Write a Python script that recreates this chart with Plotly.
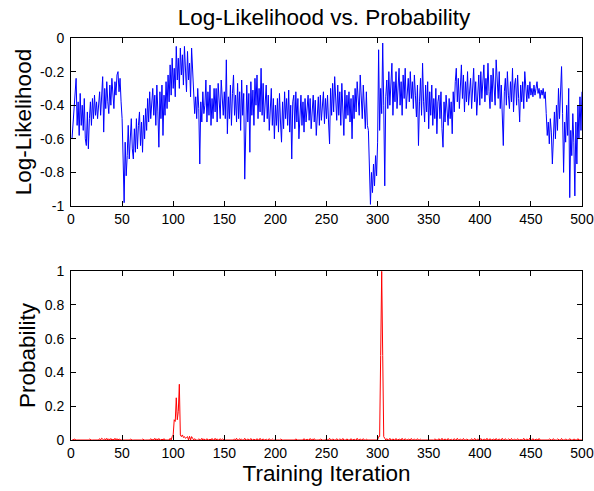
import plotly.graph_objects as go
from plotly.subplots import make_subplots

# ---------------- data ----------------
iterations = list(range(1, 501))

log_likelihood = [
    -0.60, -0.50, -0.42, -0.36, -0.24, -0.52, -0.38, -0.58, -0.33, -0.52,
    -0.40, -0.55, -0.36, -0.60, -0.64, -0.44, -0.66, -0.48, -0.38, -0.52,
    -0.36, -0.48, -0.34, -0.46, -0.38, -0.48, -0.36, -0.32, -0.46, -0.28,
    -0.23, -0.56, -0.30, -0.42, -0.26, -0.38, -0.45, -0.28, -0.40, -0.24,
    -0.36, -0.42, -0.26, -0.34, -0.22, -0.20, -0.32, -0.24, -0.38, -0.48,
    -0.72, -0.98, -0.62, -0.82, -0.70, -0.52, -0.72, -0.58, -0.48, -0.66,
    -0.72, -0.54, -0.68, -0.48, -0.66, -0.52, -0.44, -0.64, -0.50, -0.68,
    -0.46, -0.60, -0.42, -0.55, -0.36, -0.50, -0.32, -0.48, -0.38, -0.30,
    -0.46, -0.34, -0.52, -0.28, -0.44, -0.65, -0.32, -0.48, -0.28, -0.58,
    -0.34, -0.46, -0.26, -0.42, -0.22, -0.38, -0.16, -0.34, -0.12, -0.30,
    -0.18, -0.35, -0.05, -0.25, -0.12, -0.30, -0.06, -0.22, -0.10, -0.28,
    -0.05, -0.20, -0.32, -0.08, -0.25, -0.15, -0.35, -0.06, -0.22, -0.30,
    -0.45, -0.35, -0.48, -0.30, -0.42, -0.75, -0.38, -0.50, -0.32, -0.45,
    -0.40, -0.25, -0.50, -0.32, -0.46, -0.28, -0.52, -0.36, -0.48, -0.30,
    -0.44, -0.30, -0.50, -0.27, -0.42, -0.48, -0.25, -0.40, -0.46, -0.32,
    -0.48, -0.13, -0.57, -0.35, -0.48, -0.28, -0.52, -0.33, -0.22, -0.46,
    -0.34, -0.50, -0.27, -0.48, -0.32, -0.55, -0.25, -0.46, -0.33, -0.84,
    -0.42, -0.28, -0.50, -0.33, -0.68, -0.26, -0.46, -0.31, -0.52, -0.24,
    -0.40, -0.22, -0.48, -0.30, -0.44, -0.18, -0.46, -0.27, -0.50, -0.33,
    -0.28, -0.48, -0.34, -0.55, -0.38, -0.30, -0.52, -0.36, -0.60, -0.40,
    -0.52, -0.36, -0.56, -0.33, -0.50, -0.62, -0.38, -0.54, -0.32, -0.48,
    -0.36, -0.52, -0.31, -0.56, -0.40, -0.72, -0.38, -0.34, -0.54, -0.32,
    -0.50, -0.36, -0.60, -0.40, -0.34, -0.52, -0.38, -0.56, -0.36, -0.50,
    -0.38, -0.34, -0.49, -0.36, -0.54, -0.39, -0.34, -0.50, -0.37, -0.58,
    -0.40, -0.35, -0.52, -0.34, -0.49, -0.38, -0.32, -0.51, -0.36, -0.48,
    -0.34, -0.50, -0.63, -0.30, -0.46, -0.27, -0.44, -0.23, -0.34, -0.49,
    -0.28, -0.46, -0.32, -0.52, -0.27, -0.44, -0.58, -0.31, -0.48, -0.34,
    -0.46, -0.32, -0.50, -0.36, -0.60, -0.34, -0.48, -0.30, -0.44, -0.26,
    -0.40, -0.46, -0.22, -0.42, -0.48, -0.28, -0.44, -0.54, -0.32, -0.52,
    -0.55, -0.72, -0.99, -0.80, -0.92, -0.75, -0.88, -0.70, -0.82, -0.62,
    -0.07, -0.55, -0.30, -0.45, -0.03, -0.40, -0.88, -0.35, -0.25, -0.42,
    -0.20, -0.40, -0.28, -0.15, -0.46, -0.26, -0.38, -0.20, -0.42, -0.30,
    -0.18, -0.40, -0.26, -0.46, -0.22, -0.36, -0.18, -0.42, -0.28, -0.24,
    -0.38, -0.20, -0.36, -0.26, -0.42, -0.22, -0.34, -0.47, -0.28, -0.64,
    -0.38, -0.24, -0.46, -0.15, -0.38, -0.50, -0.28, -0.44, -0.26, -0.54,
    -0.32, -0.46, -0.28, -0.52, -0.36, -0.48, -0.30, -0.57, -0.38, -0.34,
    -0.48, -0.32, -0.54, -0.65, -0.38, -0.50, -0.34, -0.46, -0.52, -0.36,
    -0.48, -0.38, -0.57, -0.32, -0.44, -0.26, -0.18, -0.38, -0.24, -0.42,
    -0.28, -0.16, -0.36, -0.22, -0.44, -0.26, -0.38, -0.20, -0.40, -0.28,
    -0.24, -0.42, -0.30, -0.18, -0.38, -0.26, -0.46, -0.28, -0.22, -0.40,
    -0.20, -0.36, -0.26, -0.16, -0.38, -0.24, -0.34, -0.15, -0.32, -0.42,
    -0.22, -0.38, -0.18, -0.32, -0.40, -0.13, -0.30, -0.36, -0.20, -0.42,
    -0.28, -0.48, -0.64, -0.32, -0.24, -0.40, -0.20, -0.34, -0.42, -0.26,
    -0.38, -0.18, -0.44, -0.28, -0.24, -0.40, -0.22, -0.36, -0.50, -0.28,
    -0.38, -0.26, -0.42, -0.20, -0.34, -0.38, -0.28, -0.36, -0.26, -0.34,
    -0.30, -0.35, -0.28, -0.34, -0.30, -0.26, -0.33, -0.30, -0.36, -0.31,
    -0.34, -0.30, -0.36, -0.32, -0.45, -0.58, -0.50, -0.63, -0.48, -0.56,
    -0.75, -0.52, -0.44, -0.60, -0.40, -0.55, -0.30, -0.48, -0.36, -0.17,
    -0.45, -0.80, -0.50, -0.62, -0.40, -0.58, -0.30, -0.95, -0.55, -0.70,
    -0.45, -0.62, -0.94, -0.50, -0.75, -0.40, -0.60, -0.35, -0.55, -0.32,
]

# probability: zero except at the iterations listed here
prob_nonzero = {
    3: 0.006, 18: 0.005,
    28: 0.008, 30: 0.01, 31: 0.006, 33: 0.008, 35: 0.01, 37: 0.007, 39: 0.009,
    41: 0.006, 43: 0.01, 45: 0.008, 47: 0.006, 58: 0.005,
    70: 0.005, 78: 0.008, 80: 0.006, 82: 0.01, 84: 0.007, 86: 0.009, 89: 0.006, 91: 0.008,
    97: 0.01, 99: 0.02, 100: 0.03, 101: 0.12, 102: 0.11, 103: 0.25, 104: 0.12,
    105: 0.17, 106: 0.33, 107: 0.03, 108: 0.02, 109: 0.03, 110: 0.015, 111: 0.02,
    112: 0.01, 113: 0.015, 114: 0.02, 116: 0.022, 118: 0.02, 119: 0.01, 121: 0.008,
    125: 0.006, 128: 0.01, 130: 0.007, 133: 0.008, 136: 0.006, 138: 0.009,
    141: 0.01, 143: 0.007, 146: 0.008, 148: 0.006,
    160: 0.007, 162: 0.01, 165: 0.008, 167: 0.006, 170: 0.01, 173: 0.007,
    176: 0.009, 179: 0.006, 182: 0.008, 185: 0.01, 188: 0.007, 191: 0.006,
    194: 0.008, 197: 0.006, 205: 0.005, 220: 0.007, 228: 0.008, 231: 0.006,
    234: 0.009, 236: 0.006, 238: 0.008, 244: 0.006, 250: 0.007, 253: 0.01,
    256: 0.006, 260: 0.008, 263: 0.006, 266: 0.009, 270: 0.007, 274: 0.008,
    277: 0.006, 280: 0.01, 283: 0.007, 286: 0.008, 289: 0.006,
    301: 0.02, 302: 0.02, 303: 0.5, 304: 1.0, 305: 0.5, 306: 0.02, 307: 0.01,
    309: 0.008, 312: 0.01, 315: 0.007, 318: 0.009, 321: 0.006, 324: 0.01,
    327: 0.008, 330: 0.006, 333: 0.009, 336: 0.007, 339: 0.008, 342: 0.006,
    356: 0.006, 360: 0.008, 363: 0.01, 366: 0.007, 369: 0.009, 372: 0.006,
    375: 0.008, 378: 0.01, 381: 0.007, 384: 0.009, 387: 0.006,
    392: 0.008, 395: 0.01, 398: 0.007, 401: 0.009, 404: 0.006, 407: 0.01,
    410: 0.008, 413: 0.006, 416: 0.009, 419: 0.007, 422: 0.01, 425: 0.008,
    428: 0.006, 431: 0.009, 434: 0.007, 437: 0.008, 440: 0.006, 443: 0.01,
    446: 0.007, 449: 0.012, 452: 0.008, 455: 0.006, 458: 0.009,
    468: 0.006, 472: 0.008, 476: 0.006, 480: 0.009, 484: 0.007, 488: 0.008,
    492: 0.006, 496: 0.008,
}
probability = [prob_nonzero.get(i, 0.0) for i in iterations]

x_ticks = [0, 50, 100, 150, 200, 250, 300, 350, 400, 450, 500]
ll_ticks = [-1, -0.8, -0.6, -0.4, -0.2, 0]
ll_tick_text = ["-1", "-0.8", "-0.6", "-0.4", "-0.2", "0"]
p_ticks = [0, 0.2, 0.4, 0.6, 0.8, 1]
p_tick_text = ["0", "0.2", "0.4", "0.6", "0.8", "1"]

# ---------------- figure ----------------
FONT = "Liberation Sans, Arial, sans-serif"
TITLE_SIZE = 22.5

fig = make_subplots(rows=2, cols=1, vertical_spacing=0.0)

fig.add_trace(go.Scatter(x=iterations, y=log_likelihood, mode="lines",
                         line=dict(color="#0000ff", width=1), showlegend=False),
              row=1, col=1)
fig.add_trace(go.Scatter(x=iterations, y=probability, mode="lines",
                         line=dict(color="#ff0000", width=1), showlegend=False),
              row=2, col=1)

axis_common = dict(showline=True, linecolor="black", linewidth=1, mirror="ticks",
                   ticks="inside", ticklen=5, tickcolor="black", tickwidth=1,
                   showgrid=False, zeroline=False, automargin=False,
                   tickfont=dict(family=FONT, size=14, color="black"))

fig.update_xaxes(range=[0, 500], tickvals=x_ticks, **axis_common)
fig.update_xaxes(title=dict(text="Training Iteration",
                            font=dict(family=FONT, size=TITLE_SIZE, color="black"),
                            standoff=0), row=2, col=1)
fig.update_yaxes(range=[-1, 0], tickvals=ll_ticks, ticktext=ll_tick_text,
                 ticklabelstandoff=3,
                 title=dict(text="Log-Likelihood",
                            font=dict(family=FONT, size=TITLE_SIZE, color="black"),
                            standoff=2),
                 row=1, col=1, **axis_common)
fig.update_yaxes(range=[0, 1], tickvals=p_ticks, ticktext=p_tick_text,
                 ticklabelstandoff=3,
                 title=dict(text="Probability",
                            font=dict(family=FONT, size=TITLE_SIZE, color="black"),
                            standoff=2),
                 row=2, col=1, **axis_common)

fig.update_layout(
    width=594, height=491,
    margin=dict(l=71, r=12, t=38, b=51),
    paper_bgcolor="white", plot_bgcolor="white",
    title=dict(text="Log-Likelihood vs. Probability", x=0.5455, xanchor="center",
               y=0.965, yanchor="middle",
               font=dict(family=FONT, size=TITLE_SIZE, color="black")),
    xaxis=dict(domain=[0, 1]),
    yaxis=dict(domain=[0.582, 1.0]),
    xaxis2=dict(domain=[0, 1]),
    yaxis2=dict(domain=[0.0, 0.42]),
)

# remove the default page margin so the figure fills the window exactly
fig.write_html("out.html",
               config={"displayModeBar": False},
               post_script="document.body.style.margin='0';document.body.style.overflow='hidden';")
